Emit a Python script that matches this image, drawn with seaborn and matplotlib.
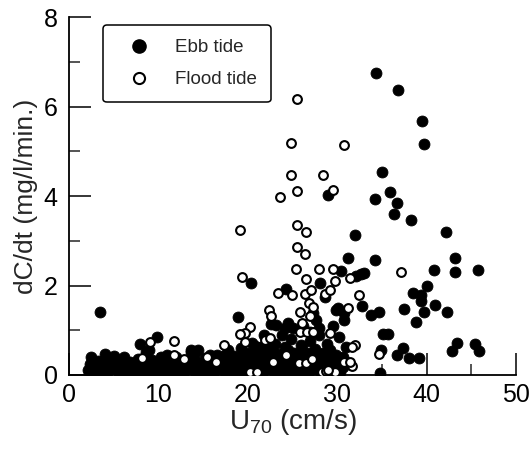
import matplotlib
matplotlib.use("Agg")
import matplotlib.pyplot as plt
from matplotlib.lines import Line2D
from matplotlib.ticker import MultipleLocator
import seaborn as sns
import pandas as pd

# ---- data ----
ebb_x = [34.3, 36.8, 39.5, 39.7, 35.0, 35.9, 34.2, 36.7, 36.3, 38.2, 32.0, 42.2, 29.0,
         31.2, 34.2, 43.2, 30.4, 32.7, 32.1, 33.0, 40.8, 43.2, 45.7,
         40.0, 38.5, 39.4, 39.4, 40.9, 39.7, 42.3, 37.5, 38.8,
         32.8, 33.8, 34.7, 30.7, 30.8, 30.1, 35.1, 35.7,
         43.4, 42.8, 45.4, 45.8, 37.3, 36.7, 38.0, 39.1, 34.9, 34.8, 31.0,
         20.4, 28.1, 24.3, 28.6, 29.8, 18.9, 22.6, 23.2, 24.2, 24.5, 27.6, 27.3,
         3.5, 7.9, 9.9, 8.6, 9.0, 13.6, 14.4, 13.7,
         16.5, 17.8, 18.5, 19.2, 20.0, 20.8, 21.5, 22.2, 23.0, 23.6, 24.1, 24.8, 25.2, 25.9,
         26.3, 26.9, 27.5, 27.9, 28.4, 28.9, 29.2, 29.8, 30.2, 30.6, 25.0, 26.2, 23.8, 21.8,
         22.0, 19.8, 17.0, 15.8, 27.0, 28.0, 29.5,
         2.1, 2.4, 2.7, 3.0, 3.2, 3.6, 3.9, 4.2, 4.4, 4.7, 5.0, 5.3, 5.6, 5.9, 6.2, 6.4, 6.8,
         7.1, 7.3, 7.7, 8.0, 8.3, 8.7, 9.0, 9.3, 9.6, 9.9, 10.3, 10.5, 10.9, 11.2, 11.5, 11.9,
         12.2, 12.5, 12.9, 13.2, 13.5, 13.9, 14.2, 14.6, 14.9, 15.2, 15.5, 15.9, 16.2, 16.6,
         16.9, 17.3, 17.6, 18.0, 18.3, 18.6, 19.0, 19.3, 19.6, 20.0, 20.3, 20.6, 21.0, 21.3,
         21.7, 22.0, 22.3, 22.7, 23.0, 23.4, 23.7, 24.0, 24.4, 24.7, 25.0, 25.4, 25.8, 26.1,
         26.4, 26.8, 27.1, 27.5, 27.8, 28.2, 28.5, 28.9, 29.3, 29.6, 30.0, 30.3, 30.6, 31.0, 30.4,
         3.4, 5.0, 6.0, 8.5, 10.0, 11.0, 12.0, 14.0, 16.0, 17.5, 19.5, 21.0, 23.0, 25.0, 27.0,
         4.0, 2.5, 20.5, 21.5, 24.5, 26.0]
ebb_y = [6.76, 6.38, 5.67, 5.16, 4.54, 4.10, 3.94, 3.84, 3.60, 3.46, 3.12, 3.20, 4.02,
         2.62, 2.58, 2.61, 2.33, 2.25, 2.21, 2.28, 2.34, 2.31, 2.34,
         1.99, 1.83, 1.79, 1.65, 1.57, 1.41, 1.41, 1.48, 1.19,
         1.54, 1.34, 1.41, 1.38, 1.23, 1.49, 0.91, 0.91,
         0.72, 0.54, 0.69, 0.54, 0.60, 0.45, 0.37, 0.37, 0.56, 0.04, 0.63,
         2.05, 2.06, 1.92, 1.75, 1.45, 1.29, 1.14, 1.12, 1.04, 1.16, 1.23, 1.39,
         1.41, 0.69, 0.86, 0.52, 0.56, 0.56, 0.56, 0.52,
         0.45, 0.55, 0.42, 0.60, 0.50, 0.65, 0.45, 0.55, 0.70, 0.48, 0.62, 0.80, 0.50, 0.68,
         0.45, 0.75, 0.58, 0.90, 0.50, 0.70, 0.56, 0.45, 0.85, 0.41, 1.05, 1.10, 0.90, 0.90,
         0.68, 0.40, 0.35, 0.45, 0.95, 1.05, 1.10,
         0.12, 0.25, 0.05, 0.18, 0.32, 0.10, 0.22, 0.38, 0.08, 0.28, 0.15, 0.35, 0.05, 0.22,
         0.40, 0.12, 0.30, 0.06, 0.20, 0.35, 0.10, 0.25, 0.04, 0.18, 0.33, 0.08, 0.24, 0.40,
         0.12, 0.28, 0.05, 0.20, 0.34, 0.10, 0.24, 0.06, 0.18, 0.36, 0.12, 0.28, 0.05, 0.20,
         0.38, 0.10, 0.25, 0.06, 0.18, 0.32, 0.10, 0.24, 0.40, 0.06, 0.20, 0.33, 0.10, 0.26,
         0.05, 0.18, 0.36, 0.12, 0.28, 0.06, 0.22, 0.40, 0.12, 0.30, 0.05, 0.20, 0.38, 0.10,
         0.26, 0.05, 0.18, 0.36, 0.10, 0.28, 0.06, 0.20, 0.38, 0.12, 0.28, 0.44, 0.20, 0.34,
         0.10, 0.25, 0.06, 0.18, 0.30, 0.19,
         0.05, 0.42, 0.03, 0.38, 0.02, 0.45, 0.40, 0.42, 0.40, 0.45, 0.45, 0.50, 0.48, 0.45,
         0.50, 0.48, 0.40, 0.72, 0.62, 0.55, 0.60]

flood_x = [25.5, 24.8, 30.8, 24.8, 28.4, 25.5, 23.6, 29.5, 19.1, 25.5, 26.5, 25.5, 26.4,
           25.4, 28.0, 29.5, 19.3, 26.5, 31.4, 37.1, 29.7, 23.4, 26.4, 27.1, 28.6, 29.2,
           32.4, 24.9, 26.8, 27.3, 25.8, 31.2, 22.4, 22.6, 26.9,
           20.2, 19.7, 19.1, 19.7, 17.3, 15.4, 21.9, 22.5, 25.8, 26.6, 27.3, 29.2, 32.0,
           31.6, 34.7, 31.6, 30.8, 31.4,
           9.1, 11.7, 8.2, 11.7, 12.9,
           20.2, 21.0, 28.3, 28.7, 29.7, 24.3, 25.7, 26.5, 16.4, 22.8, 27.2, 29.0, 26.0]
flood_y = [6.16, 5.19, 5.14, 4.48, 4.48, 4.12, 3.98, 4.13, 3.24, 3.35, 3.20, 2.87, 2.70,
           2.38, 2.38, 2.37, 2.18, 2.15, 2.17, 2.30, 2.09, 1.84, 1.81, 1.90, 1.81, 1.90,
           1.79, 1.79, 1.60, 1.53, 1.41, 1.49, 1.45, 1.32, 1.32,
           1.08, 0.93, 0.92, 0.74, 0.67, 0.41, 0.78, 0.82, 0.97, 0.97, 0.95, 0.93, 0.67,
           0.63, 0.47, 0.21, 0.28, 0.30,
           0.74, 0.76, 0.37, 0.45, 0.36,
           0.06, 0.06, 0.06, 0.08, 0.06, 0.45, 0.26, 0.26, 0.30, 0.30, 0.35, 0.11, 1.16]

legend_labels = ["Ebb tide", "Flood tide"]
x_ticks = [0, 10, 20, 30, 40, 50]
y_ticks = [0, 2, 4, 6, 8]

ebb = pd.DataFrame({"U70": ebb_x, "dCdt": ebb_y})
flood = pd.DataFrame({"U70": flood_x, "dCdt": flood_y})

sns.set_style("ticks")
FONT = ["Liberation Sans", "DejaVu Sans"]
plt.rcParams["font.family"] = FONT
plt.rcParams["mathtext.default"] = "regular"

fig = plt.figure(figsize=(5.3, 4.5), dpi=100)
ax = fig.add_axes([0.130, 0.1667, 0.844, 0.7953])

sns.scatterplot(data=ebb, x="U70", y="dCdt", ax=ax, color="black",
                edgecolor="black", s=62, linewidth=0.6, zorder=3)
sns.scatterplot(data=flood, x="U70", y="dCdt", ax=ax, color="white",
                edgecolor="black", s=40, linewidth=1.5, zorder=4)

ax.set_xlim(0, 50)
ax.set_ylim(0, 8)
ax.set_xticks(x_ticks)
ax.set_yticks(y_ticks)
ax.xaxis.set_minor_locator(MultipleLocator(5))
ax.yaxis.set_minor_locator(MultipleLocator(1))
ax.tick_params(which="major", direction="in", length=16, width=1.1,
               labelsize=18, pad=6, colors="black")
ax.tick_params(which="minor", direction="in", length=8, width=1.1)
ax.tick_params(axis="y", which="major", pad=8)
for s in ["top", "right"]:
    ax.spines[s].set_visible(False)
for s in ["left", "bottom"]:
    ax.spines[s].set_linewidth(1.3)
    ax.spines[s].set_color("black")

ax.set_xlabel("U$_{70}$ (cm/s)", fontsize=20, labelpad=0)
ax.set_ylabel("dC/dt (mg/l/min.)", fontsize=19, labelpad=4)

handles = [
    Line2D([], [], marker="o", ls="", mfc="black", mec="black", ms=9.5),
    Line2D([], [], marker="o", ls="", mfc="white", mec="black", ms=8, mew=1.5),
]
leg = ax.legend(handles, legend_labels, loc="upper left",
                bbox_to_anchor=(0.076, 0.978), fontsize=13.5, frameon=True,
                fancybox=True, handlelength=2.4, handletextpad=0.7,
                borderpad=0.75, labelspacing=0.8, borderaxespad=0)
leg.get_frame().set_edgecolor("black")
leg.get_frame().set_linewidth(1.1)
leg.get_frame().set_alpha(1)

fig.savefig("out.png", dpi=100)
